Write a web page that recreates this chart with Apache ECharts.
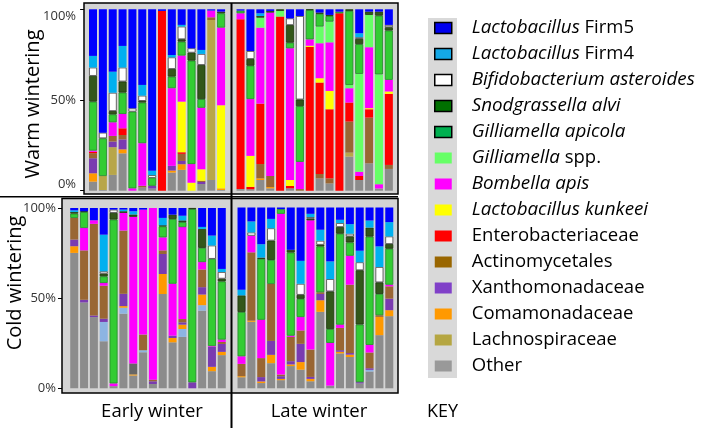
<!DOCTYPE html>
<html>
<head>
<meta charset="utf-8">
<script src="https://cdn.jsdelivr.net/npm/echarts@6/dist/echarts.min.js"></script>
<style>html,body{margin:0;padding:0;background:#fff}#c{width:708px;height:432px}</style>
</head>
<body>
<div id="c"></div>
<script>
// ---------- DATA ----------
// Panels: WE = Warm wintering / Early winter, WL = Warm / Late, CE = Cold / Early, CL = Cold / Late
const catsWE = ['W-E1','W-E2','W-E3','W-E4','W-E5','W-E6','W-E7','W-E8','W-E9','W-E10','W-E11','W-E12','W-E13','W-E14'];
const catsWL = ['W-L1','W-L2','W-L3','W-L4','W-L5','W-L6','W-L7','W-L8','W-L9','W-L10','W-L11','W-L12','W-L13','W-L14','W-L15','W-L16'];
const catsCE = ['C-E1','C-E2','C-E3','C-E4','C-E5','C-E6','C-E7','C-E8','C-E9','C-E10','C-E11','C-E12','C-E13','C-E14','C-E15','C-E16'];
const catsCL = ['C-L1','C-L2','C-L3','C-L4','C-L5','C-L6','C-L7','C-L8','C-L9','C-L10','C-L11','C-L12','C-L13','C-L14','C-L15','C-L16'];

const yTicks = [0, 50, 100];
const rowLabels = ['Warm wintering', 'Cold wintering'];
const colLabels = ['Early winter', 'Late winter'];

// Taxa (legend order, top of stack first)
const taxaNames = ['Lactobacillus Firm5','Lactobacillus Firm4','Bifidobacterium asteroides','Snodgrassella alvi','Gilliamella apicola','Gilliamella spp.','Bombella apis','Lactobacillus kunkeei','Enterobacteriaceae','Actinomycetales','Xanthomonadaceae','Comamonadaceae','Lachnospiraceae','Other'];

// Warm / Early (14 samples), % relative abundance
const WE_firm5  = [25.7,68.0,34.4,20.2,54.6,41.7,89.0,0.9,25.2,8.6,21.5,22.4,0.7,1.3];
const WE_firm4  = [6.4,0,11.6,11.9,0,5.9,2.4,0,1.3,0.9,0,2.2,0,0];
const WE_bifido = [4.6,3.1,10.1,7.7,1.8,2.9,1.5,0,6.4,7.0,2.4,6.1,0,0];
const WE_snod   = [14.2,0,1.8,6.1,0,0.9,0,0,4.2,1.3,4.4,18.8,0,0.9];
const WE_gapi   = [27.0,20.8,4.4,11.8,42.3,22.4,4.4,0,6.4,7.7,57.0,4.8,0,7.9];
const WE_gspp   = [0,0,0,0,0,0,0,0,0,0,0,0,0,0];
const WE_bomb   = [0.7,0,7.5,7.9,1.3,23.5,0,0,42.8,25.4,10.3,33.9,3.7,42.8];
const WE_kunk   = [0,0,0,0,0,0,0,0,0,27.9,4.4,6.3,0,45.8];
const WE_entero = [0.7,0,0,3.7,0,0,0,99.1,0,0.9,0,0,0,0];
const WE_actino = [2.8,0,3.1,2.4,0,0.9,0,0,0,3.9,0,0.7,1.5,0];
const WE_xantho = [8.3,0,3.1,5.5,0,0,1.5,0,2.6,1.8,0,1.1,0,0];
const WE_comam  = [4.6,0,0,2.2,0,0,0,0,1.1,3.1,0,0,0,0.9];
const WE_lachno = [0,7.7,15.3,0,0,0,0,0,0,0,0,0,88.2,0];
const WE_other  = [5.0,0.4,8.7,20.6,0,1.8,1.2,0,10.0,11.5,0,3.7,5.9,0.4];
const WE_steel  = [0,0,0,0,0,0,0,0,0,0,0,0,0,0];
const WE_dgray  = [0,0,0,0,0,0,0,0,0,0,0,0,0,0];

// Warm / Late (16 samples)
const WL_firm5  = [0.7,23.0,2.2,0.9,0,5.0,3.7,0,1.8,3.1,1.3,0,13.2,1.3,1.3,8.6];
const WL_firm4  = [0,0,1.5,0,0,0,0,0,0,0,0,0,2.2,0,0,0];
const WL_bifido = [0,4.4,0,0,0,3.7,46.0,0,0,0,0,0,0.9,0,0,1.3];
const WL_snod   = [0,3.7,0.9,0.9,0.9,9.7,3.7,0.4,0.7,0.6,0,0.9,2.9,1.8,2.2,1.8];
const WL_gapi   = [1.5,18.4,0,0,0,3.1,30.7,16.2,7.0,3.1,0.9,40.8,16.4,0,32.4,27.2];
const WL_gspp   = [0,0,5.5,0,3.1,0,0,0,9.2,11.4,0,1.8,53.9,17.8,60.5,0];
const WL_bomb   = [3.3,31.3,41.9,90.1,0,72.6,15.0,3.5,19.3,26.8,0,7.9,2.4,33.6,2.4,6.4];
const WL_kunk   = [0,17.1,0,0,0,3.3,0,0.6,2.4,10.1,0,0,0,0.6,0,1.3];
const WL_entero = [93.6,1.3,33.3,0,96.0,1.3,0,79.3,50.4,38.1,97.8,10.5,2.2,4.6,0,39.2];
const WL_actino = [0,0,7.9,6.1,0,0,0.9,0,2.4,2.8,0,17.1,0,25.2,0,2.2];
const WL_xantho = [0,0,0,0,0,0,0,0,0,0,0,0,0,0,0,0];
const WL_comam  = [0,0,0.9,0.7,0,0,0,0,0,0,0,0,0,0,0,0];
const WL_lachno = [0,0,0,0,0,0,0,0,0,0,0,2.2,0,0,0,0];
const WL_other  = [0.9,0.8,5.9,1.3,0,1.3,0,0,6.8,4.0,0,18.8,5.9,15.1,1.2,12.0];
const WL_steel  = [0,0,0,0,0,0,0,0,0,0,0,0,0,0,0,0];
const WL_dgray  = [0,0,0,0,0,0,0,0,0,0,0,0,0,0,0,0];

// Cold / Early (16 samples)
const CE_firm5  = [1.3,1.8,6.8,14.8,0.9,0.9,1.8,0.9,0,5.5,3.7,4.3,0,10.5,15.3,33.8];
const CE_firm4  = [0.9,0,0,20.3,0,0.9,1.8,0,0,4.1,0,2.6,0,1.1,5.5,1.7];
const CE_bifido = [0,0,0,1.3,1.8,0,0,0,0,0,0,0,0,0,7.4,3.7];
const CE_snod   = [0.9,0.4,0,1.5,3.7,0.9,1.3,0,0,0.6,2.4,0.9,0.6,10.5,0,1.5];
const CE_gapi   = [2.4,8.9,0,3.7,90.9,0,0,0,0,6.1,35.9,2.8,96.1,7.9,48.4,32.3];
const CE_gspp   = [0,0,0,0,0,0,0,0,0,0,0,0,0,0,0,0];
const CE_bomb   = [0,12.4,2.0,1.5,1.5,9.8,81.3,69.3,95.2,7.2,28.8,51.0,0,4.1,0.4,1.3];
const CE_kunk   = [0,0,0,0,0,0,0,0,0,0,0,0,0,0,0,0];
const CE_entero = [0,0,0,0,0,0,0,0,0,0,0,0,0,0,0,0];
const CE_actino = [12.0,27.4,50.8,18.3,0,35.1,0,8.7,0.9,2.0,0,1.8,0,9.8,0,1.1];
const CE_xantho = [3.7,1.5,0.9,1.8,0,6.8,0,0,1.5,11.1,1.3,1.3,3.3,4.1,11.1,4.4];
const CE_comam  = [3.7,0,0,0,0,0.9,0.6,0,0,11.1,2.4,2.4,0,5.9,2.4,1.8];
const CE_lachno = [0,0,0,0,0,0,0,0,0,0,0,0,0,0,0,0];
const CE_other  = [75.1,47.6,39.5,26.1,1.2,41.4,7.1,20.0,2.4,52.3,25.5,28.5,0,43.1,9.5,18.4];
const CE_steel  = [0,0,0,10.7,0,3.3,0,1.1,0,0,0,4.4,0,3.0,0,0];
const CE_dgray  = [0,0,0,0,0,0,6.1,0,0,0,0,0,0,0,0,0];

// Cold / Late (16 samples)
const CL_firm5  = [45.5,7.7,20.3,6.3,0.9,23.4,29.5,3.5,12.3,29.8,6.8,9.2,23.9,7.2,21.5,8.1];
const CL_firm4  = [3.1,6.1,7.4,5.2,0,0,12.7,1.8,6.1,9.8,1.8,5.3,6.4,3.9,11.4,7.9];
const CL_bifido = [0,1.8,0,6.8,0,0,6.1,0.9,2.2,6.8,2.2,1.5,4.4,0,8.5,4.2];
const CL_snod   = [9.2,0,0.7,10.7,0,1.5,2.2,0.9,0.9,20.8,3.7,3.3,30.0,5.0,6.4,2.6];
const CL_gapi   = [24.5,0,33.7,13.3,2.6,46.0,10.1,0,25.4,7.7,50.3,7.4,31.9,59.9,11.8,19.9];
const CL_gspp   = [0,0,0,0,0,0,0,0,0,0,0,0,0,0,0,0];
const CL_bomb   = [4.2,9.2,21.2,0,88.9,0.7,7.4,71.5,0,23.6,1.8,16.0,0,4.2,0,0.9];
const CL_kunk   = [0,0,0,0,0,0,0,0,0,0,0,0,0,0,0,0];
const CL_entero = [0,0,0,0,0,0,0,0,0,0,0,0,0,0,0,0];
const CL_actino = [6.8,37.8,10.5,31.5,0.9,13.4,7.4,15.1,0.9,0,12.3,37.8,0,8.7,0.9,6.8];
const CL_xantho = [0,0,2.4,7.7,1.5,1.8,10.1,1.1,3.5,0,0.9,0.9,0.7,0.9,0,6.4];
const CL_comam  = [0.6,0.6,0.9,4.6,0.7,0.9,4.2,1.3,6.4,0,0.9,1.3,0,0,10.1,3.3];
const CL_lachno = [0,0,0,0,0,0,0,0,0,0,0,0,0,0,0,0];
const CL_other  = [6.1,36.8,2.9,13.9,4.5,12.3,10.3,3.9,42.3,1.5,19.3,17.3,2.7,9.3,29.4,39.9];
const CL_steel  = [0,0,0,0,0,0,0,0,0,0,0,0,0,0.9,0,0];
const CL_dgray  = [0,0,0,0,0,0,0,0,0,0,0,0,0,0,0,0];

// ---------- BUILD ----------
const FONT = "'Open Sans', sans-serif";
// stack order bottom -> top
const stackDef = [
  {key:'other',  name:'Other',                     color:'#8c8c8c'},
  {key:'steel',  name:'_steel',                    color:'#8db4e2'},
  {key:'lachno', name:'Lachnospiraceae',           color:'#b8a649'},
  {key:'comam',  name:'Comamonadaceae',            color:'#ff9900'},
  {key:'dgray',  name:'_dgray',                    color:'#666666'},
  {key:'xantho', name:'Xanthomonadaceae',          color:'#7a3bb0'},
  {key:'actino', name:'Actinomycetales',           color:'#996633'},
  {key:'entero', name:'Enterobacteriaceae',        color:'#ff0000'},
  {key:'kunk',   name:'Lactobacillus kunkeei',     color:'#ffff00'},
  {key:'bomb',   name:'Bombella apis',             color:'#ff00ff'},
  {key:'gspp',   name:'Gilliamella spp.',          color:'#66ff66'},
  {key:'gapi',   name:'Gilliamella apicola',       color:'#33cc33', border:'#23882a'},
  {key:'snod',   name:'Snodgrassella alvi',        color:'#33571a', border:'#1c3a0c'},
  {key:'bifido', name:'Bifidobacterium asteroides',color:'#ffffff', border:'#444444'},
  {key:'firm4',  name:'Lactobacillus Firm4',       color:'#00b0f0'},
  {key:'firm5',  name:'Lactobacillus Firm5',       color:'#0000ff'}
];
const panelData = {
  WE:{firm5:WE_firm5,firm4:WE_firm4,bifido:WE_bifido,snod:WE_snod,gapi:WE_gapi,gspp:WE_gspp,bomb:WE_bomb,kunk:WE_kunk,entero:WE_entero,actino:WE_actino,xantho:WE_xantho,comam:WE_comam,lachno:WE_lachno,other:WE_other,steel:WE_steel,dgray:WE_dgray},
  WL:{firm5:WL_firm5,firm4:WL_firm4,bifido:WL_bifido,snod:WL_snod,gapi:WL_gapi,gspp:WL_gspp,bomb:WL_bomb,kunk:WL_kunk,entero:WL_entero,actino:WL_actino,xantho:WL_xantho,comam:WL_comam,lachno:WL_lachno,other:WL_other,steel:WL_steel,dgray:WL_dgray},
  CE:{firm5:CE_firm5,firm4:CE_firm4,bifido:CE_bifido,snod:CE_snod,gapi:CE_gapi,gspp:CE_gspp,bomb:CE_bomb,kunk:CE_kunk,entero:CE_entero,actino:CE_actino,xantho:CE_xantho,comam:CE_comam,lachno:CE_lachno,other:CE_other,steel:CE_steel,dgray:CE_dgray},
  CL:{firm5:CL_firm5,firm4:CL_firm4,bifido:CL_bifido,snod:CL_snod,gapi:CL_gapi,gspp:CL_gspp,bomb:CL_bomb,kunk:CL_kunk,entero:CL_entero,actino:CL_actino,xantho:CL_xantho,comam:CL_comam,lachno:CL_lachno,other:CL_other,steel:CL_steel,dgray:CL_dgray}
};
const panels = [
  {id:'WE', cats:catsWE, grid:{left:88.1, top:9.3, width:137.9, height:181.4}},
  {id:'WL', cats:catsWL, grid:{left:235.6, top:9.3, width:158.2, height:181.4}},
  {id:'CE', cats:catsCE, grid:{left:69.3, top:208, width:157.4, height:180.3}},
  {id:'CL', cats:catsCL, grid:{left:236.6, top:207.5, width:157.6, height:180.8}}
];

const grids = [], xAxes = [], yAxes = [], series = [];
panels.forEach((p, i) => {
  grids.push(Object.assign({containLabel:false}, p.grid));
  xAxes.push({type:'category', gridIndex:i, data:p.cats, boundaryGap:true, show:false});
  const showY = (i === 0 || i === 2);
  yAxes.push({
    type:'value', gridIndex:i, min:yTicks[0], max:yTicks[yTicks.length-1], interval:50,
    show:showY, position:'left', offset: i === 0 ? 4 : 7.3,
    axisLine:{show:false},
    axisTick:{show:true, length:4, lineStyle:{color:'#000', width:1}},
    splitLine:{show:false},
    axisLabel:{
      show:true, formatter:'{value}%', fontFamily:FONT, fontSize:13, color:'#333',
      margin: i === 0 ? 8 : 6,
      verticalAlignMinLabel: i === 0 ? 'bottom' : 'middle',
      verticalAlignMaxLabel: i === 0 ? 'top' : 'middle'
    }
  });
  stackDef.forEach(t => {
    const vals = panelData[p.id][t.key];
    series.push({
      type:'bar', name:t.name, stack:p.id, xAxisIndex:i, yAxisIndex:i,
      barWidth:8, silent:true, animation:false,
      itemStyle:{color:t.color, borderColor:t.border || t.color, borderWidth:t.border ? 0.8 : 0},
      data: vals.map(v => v === 0 ? null : v)
    });
  });
});

const italic = {
  'Lactobacillus Firm5':'{i|Lactobacillus} Firm5',
  'Lactobacillus Firm4':'{i|Lactobacillus} Firm4',
  'Bifidobacterium asteroides':'{i|Bifidobacterium asteroides}',
  'Snodgrassella alvi':'{i|Snodgrassella alvi}',
  'Gilliamella apicola':'{i|Gilliamella apicola}',
  'Gilliamella spp.':'{i|Gilliamella} spp.',
  'Bombella apis':'{i|Bombella apis}',
  'Lactobacillus kunkeei':'{i|Lactobacillus kunkeei}'
};
const legendIcon = {
  'Lactobacillus Firm5':['#0000ee',true], 'Lactobacillus Firm4':['#14a8e6',true],
  'Bifidobacterium asteroides':['#ffffff',true], 'Snodgrassella alvi':['#007000',true],
  'Gilliamella apicola':['#00b050',true], 'Gilliamella spp.':['#66ff66',false],
  'Bombella apis':['#ff00ff',false], 'Lactobacillus kunkeei':['#ffff00',false],
  'Enterobacteriaceae':['#ff0000',false], 'Actinomycetales':['#996600',false],
  'Xanthomonadaceae':['#8040c8',false], 'Comamonadaceae':['#ff9900',false],
  'Lachnospiraceae':['#b5a642',false], 'Other':['#999999',false]
};

const txt = (text, x, y, size, extra) => Object.assign({
  type:'text', x:x, y:y, silent:true,
  style:{text:text, fontFamily:FONT, fontSize:size, fill:'#000', align:'center', verticalAlign:'middle'}
}, extra || {});

const option = {
  animation:false,
  backgroundColor:'#ffffff',
  grid:grids, xAxis:xAxes, yAxis:yAxes, series:series,
  legend:{
    orient:'vertical', left:434, top:15, padding:0, itemGap:0,
    itemWidth:17, itemHeight:11, icon:'rect', selectedMode:false,
    data: taxaNames.map(n => ({
      name:n,
      itemStyle:{color:legendIcon[n][0], borderColor:'#000', borderWidth:legendIcon[n][1] ? 1.5 : 0}
    })),
    formatter: n => italic[n] || n,
    textStyle:{
      fontFamily:FONT, fontSize:18.5, color:'#000', lineHeight:26, padding:[0,0,0,15],
      rich:{i:{fontFamily:FONT, fontSize:18.8, fontStyle:'italic', color:'#000', lineHeight:26}}
    }
  },
  graphic:[
    // legend key column
    {type:'rect', z:-5, silent:true, shape:{x:428, y:18, width:29, height:360}, style:{fill:'#d9d9d9'}},
    // panel boxes
    {type:'rect', z:-5, silent:true, shape:{x:84, y:3, width:314, height:191}, style:{fill:'#d4d4d4', stroke:'#000', lineWidth:1.5}},
    {type:'rect', z:-5, silent:true, shape:{x:62, y:198.5, width:336, height:194.5}, style:{fill:'#d4d4d4', stroke:'#000', lineWidth:1.5}},
    // divider lines
    {type:'line', z:-4, silent:true, shape:{x1:0, y1:196.8, x2:398, y2:196.8}, style:{stroke:'#000', lineWidth:1.5}},
    {type:'line', z:-4, silent:true, shape:{x1:231.5, y1:3, x2:231.5, y2:428}, style:{stroke:'#000', lineWidth:2}},
    // labels
    txt(rowLabels[0], 33, 104, 20, {rotation:Math.PI/2}),
    txt(rowLabels[1], 15, 283, 20, {rotation:Math.PI/2}),
    txt(colLabels[0], 152, 412, 18.5),
    txt(colLabels[1], 319, 412, 18.5),
    {type:'text', x:427, y:412, silent:true, style:{text:'KEY', fontFamily:FONT, fontSize:18, fill:'#000', align:'left', verticalAlign:'middle'}}
  ]
};

const chart = echarts.init(document.getElementById('c'), null, {renderer:'canvas'});
chart.setOption(option);
</script>
</body>
</html>
